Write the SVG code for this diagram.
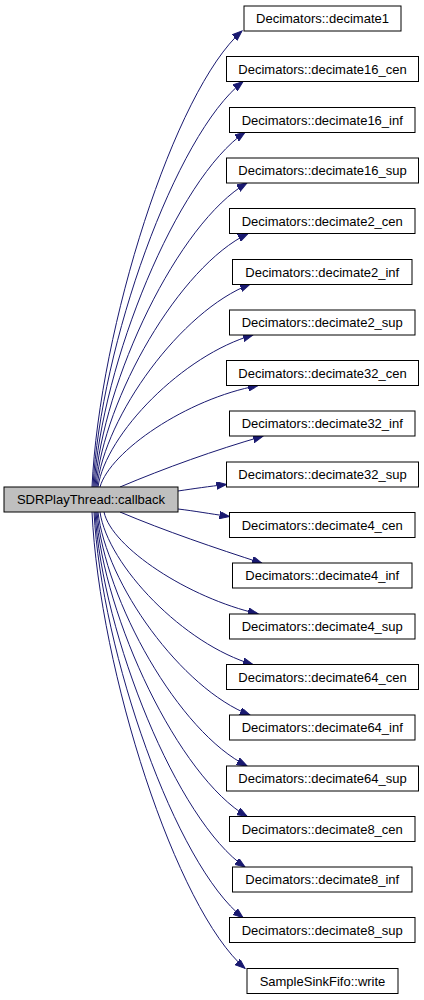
<svg xmlns="http://www.w3.org/2000/svg" width="424" height="1000" viewBox="0 0 424 1000">
<defs>
<style>
.n rect{fill:#ffffff;stroke:#000000;stroke-width:1}
.src rect{fill:#bfbfbf;stroke:#000000;stroke-width:1}
text{font-family:"Liberation Sans",Arial,sans-serif;font-size:13px;fill:#000000;text-anchor:middle}
.e path{fill:none;stroke:#191970;stroke-width:1;marker-end:url(#ah)}
</style>
<marker id="ah" markerUnits="userSpaceOnUse" markerWidth="11" markerHeight="8" refX="10" refY="3.75" orient="auto">
<path d="M0,0 L10,3.75 L0,7.5 z" fill="#191970" stroke="#191970" stroke-width="1"/>
</marker>
</defs>
<rect width="424" height="1000" fill="#ffffff"/>
<g id="edges" class="e">
<path d="M92,487 C99.5,327.4 174.5,90.3 242,31"/>
<path d="M93,487 C100.5,345.1 175.5,134.3 243,81.6"/>
<path d="M94,487 C101.6,362.9 177.1,178.4 245,132.3"/>
<path d="M95,487 C102.6,380.6 178.6,222.5 247,183"/>
<path d="M96,487 C103.6,398.3 179.6,266.5 248,233.6"/>
<path d="M97,487 C104.7,416.1 181.2,310.7 250,284.3"/>
<path d="M98,487 C105.8,433.8 183.3,354.8 253,335"/>
<path d="M100,487 C110,451.5 186.5,398.8 258,385.6"/>
<path d="M120,487 C165,468 215,450 263,436.2"/>
<path d="M178,491 C195,488.5 208,486.5 226.5,484.5"/>
<path d="M178,509 C195,511 208,513.5 229.5,516.5"/>
<path d="M120,512 C165,531 215,548 262,563.2"/>
<path d="M104,512 C111.7,547.6 188.7,598 258,613.8"/>
<path d="M100,512 C107.7,565.4 184.2,644.7 253,664.5"/>
<path d="M98,512 C105.6,583.1 181.6,688.7 250,715.1"/>
<path d="M97,512 C104.5,600.8 179.5,732.8 247,765.8"/>
<path d="M96,512 C103.6,618.5 179,776.8 247,816.4"/>
<path d="M95,512 C102.5,636.3 177.5,820.9 245,867"/>
<path d="M94,512 C101.5,654 176,865 243,917.7"/>
<path d="M92,512 C99.7,671.7 176.2,909.1 245,968.4"/>
</g>
<g id="src" class="src"><rect x="4" y="487" width="174" height="25"/><text x="91" y="504">SDRPlayThread::callback</text></g>
<g id="n0" class="n"><rect x="244" y="6" width="157" height="25"/><text x="322.5" y="23">Decimators::decimate1</text></g>
<g id="n1" class="n"><rect x="226.5" y="56.5" width="192" height="25"/><text x="322.5" y="73.5">Decimators::decimate16_cen</text></g>
<g id="n2" class="n"><rect x="229.5" y="107.5" width="185.5" height="25"/><text x="322.25" y="124.5">Decimators::decimate16_inf</text></g>
<g id="n3" class="n"><rect x="226.5" y="158" width="192" height="25"/><text x="322.5" y="175">Decimators::decimate16_sup</text></g>
<g id="n4" class="n"><rect x="229.5" y="208.5" width="185.5" height="25"/><text x="322.25" y="225.5">Decimators::decimate2_cen</text></g>
<g id="n5" class="n"><rect x="232.5" y="259.5" width="179.5" height="25"/><text x="322.25" y="276.5">Decimators::decimate2_inf</text></g>
<g id="n6" class="n"><rect x="229.5" y="310" width="185.5" height="25"/><text x="322.25" y="327">Decimators::decimate2_sup</text></g>
<g id="n7" class="n"><rect x="226.5" y="360.5" width="192" height="25"/><text x="322.5" y="377.5">Decimators::decimate32_cen</text></g>
<g id="n8" class="n"><rect x="229.5" y="411" width="185.5" height="25"/><text x="322.25" y="428">Decimators::decimate32_inf</text></g>
<g id="n9" class="n"><rect x="226.5" y="462" width="192" height="25"/><text x="322.5" y="479">Decimators::decimate32_sup</text></g>
<g id="n10" class="n"><rect x="229.5" y="512.5" width="185.5" height="25"/><text x="322.25" y="529.5">Decimators::decimate4_cen</text></g>
<g id="n11" class="n"><rect x="232.5" y="563" width="179.5" height="25"/><text x="322.25" y="580">Decimators::decimate4_inf</text></g>
<g id="n12" class="n"><rect x="229.5" y="614" width="185.5" height="25"/><text x="322.25" y="631">Decimators::decimate4_sup</text></g>
<g id="n13" class="n"><rect x="226.5" y="664.5" width="192" height="25"/><text x="322.5" y="681.5">Decimators::decimate64_cen</text></g>
<g id="n14" class="n"><rect x="229.5" y="715" width="185.5" height="25"/><text x="322.25" y="732">Decimators::decimate64_inf</text></g>
<g id="n15" class="n"><rect x="226.5" y="766" width="192" height="25"/><text x="322.5" y="783">Decimators::decimate64_sup</text></g>
<g id="n16" class="n"><rect x="229.5" y="816.5" width="185.5" height="25"/><text x="322.25" y="833.5">Decimators::decimate8_cen</text></g>
<g id="n17" class="n"><rect x="232.5" y="867" width="179.5" height="25"/><text x="322.25" y="884">Decimators::decimate8_inf</text></g>
<g id="n18" class="n"><rect x="229.5" y="917.5" width="185.5" height="25"/><text x="322.25" y="934.5">Decimators::decimate8_sup</text></g>
<g id="n19" class="n"><rect x="247" y="968.5" width="151" height="25"/><text x="322.5" y="985.5">SampleSinkFifo::write</text></g>
</svg>
